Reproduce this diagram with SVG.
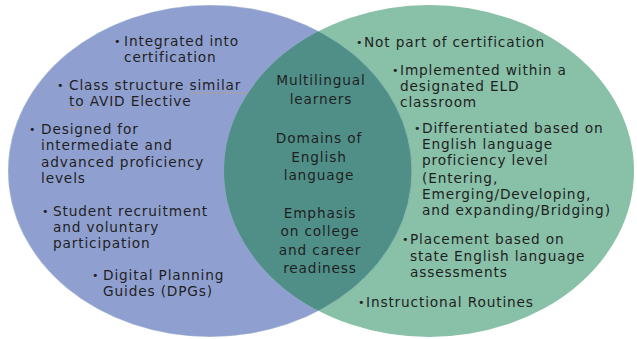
<svg xmlns="http://www.w3.org/2000/svg" width="637" height="339" viewBox="0 0 637 339">
<defs>
<clipPath id="leftClip"><ellipse cx="210" cy="171" rx="202" ry="166"/></clipPath>
<style>
text{font-family:"DejaVu Sans","Noto Sans",sans-serif;font-size:13.7px;letter-spacing:0.85px;fill:#1f1f1f}
.c{text-anchor:middle}
.b{font-size:11px;letter-spacing:0}
.sq{stroke:#c8a060;stroke-width:1;stroke-dasharray:1 1;fill:none}
</style>
</defs>
<rect width="637" height="339" fill="#ffffff"/>
<g id="left-circle"><ellipse cx="210" cy="171" rx="202" ry="166" fill="#8fa0d0"/></g>
<g id="right-circle"><ellipse cx="429" cy="171" rx="205" ry="166" fill="#88c0a8"/></g>
<g id="overlap"><ellipse cx="429" cy="171" rx="205" ry="166" fill="#4f8f88" clip-path="url(#leftClip)"/>
<ellipse cx="210" cy="171" rx="202" ry="166" fill="none" stroke="#d8ece6" stroke-width="0.8" clip-path="url(#leftClip)" opacity="0.6"/></g>
<g id="connectors"></g>
<g id="left-text">
<text class="b" x="114" y="45">•</text><text x="124" y="46">Integrated into</text>
<text x="124" y="62">certification</text>
<text class="b" x="57" y="89">•</text><text x="69" y="90">Class structure similar</text>
<text x="69" y="106">to AVID Elective</text>
<path class="sq" d="M190 93H247M69 109H85"/>
<text class="b" x="29" y="133">•</text><text x="41" y="134">Designed for</text>
<text x="41" y="150">intermediate and</text>
<text x="41" y="167">advanced proficiency</text>
<text x="41" y="183">levels</text>
<text class="b" x="42" y="215">•</text><text x="53" y="216">Student recruitment</text>
<text x="53" y="232">and voluntary</text>
<text x="53" y="248">participation</text>
<text class="b" x="92" y="279">•</text><text x="103" y="280">Digital Planning</text>
<text x="103" y="296">Guides (DPGs)</text>
</g>
<g id="center-text">
<text class="c" x="321" y="85">Multilingual</text>
<text class="c" x="321" y="104">learners</text>
<text class="c" x="319" y="143">Domains of</text>
<text class="c" x="319" y="162">English</text>
<text class="c" x="319" y="180">language</text>
<text class="c" x="320" y="218">Emphasis</text>
<text class="c" x="320" y="236">on college</text>
<text class="c" x="320" y="255">and career</text>
<text class="c" x="320" y="273">readiness</text>
</g>
<g id="right-text">
<text class="b" x="356" y="46">•</text><text x="364" y="47">Not part of certification</text>
<text class="b" x="392" y="74">•</text><text x="400" y="75">Implemented within a</text>
<text x="400" y="91">designated ELD</text>
<text x="400" y="107">classroom</text>
<text class="b" x="414" y="132">•</text><text x="422" y="133">Differentiated based on</text>
<text x="422" y="149">English language</text>
<text x="422" y="165">proficiency level</text>
<text x="422" y="183">(Entering,</text>
<text x="422" y="199">Emerging/Developing,</text>
<text x="422" y="215">and expanding/Bridging)</text>
<text class="b" x="402" y="243">•</text><text x="410" y="244">Placement based on</text>
<text x="410" y="261">state English language</text>
<text x="410" y="277">assessments</text>
<text class="b" x="358" y="306">•</text><text x="366" y="307">Instructional Routines</text>
</g>
</svg>
